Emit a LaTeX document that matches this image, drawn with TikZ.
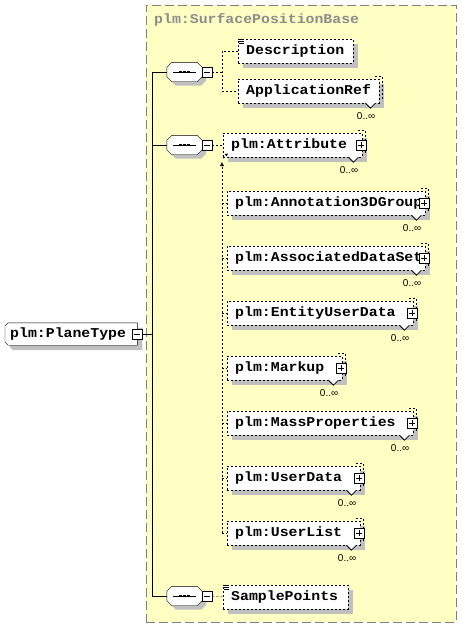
\documentclass[tikz,border=0pt]{standalone}
\usepackage{fontspec}
\newfontfamily\xsfont[FakeStretch=1.1]{Liberation Mono}
\newfontfamily\occfont{Liberation Sans}
\usetikzlibrary{arrows.meta}
\definecolor{ybg}{RGB}{255,255,196}
\definecolor{shd}{RGB}{192,192,192}
\definecolor{frm}{RGB}{128,128,128}
\definecolor{ttl}{RGB}{140,140,140}
\pgfdeclarelayer{bgl}\pgfdeclarelayer{shadow}\pgfdeclarelayer{back}
\pgfsetlayers{bgl,shadow,back,main}
\begin{document}
\begin{tikzpicture}[x=1pt,y=-1pt,line width=1pt,
  dsh/.style={dash pattern=on 2pt off 2pt},
  xsf/.style={font=\xsfont\bfseries\fontsize{13.5pt}{16pt}\selectfont},
  elem/.style={xsf,draw,dsh,fill=white,inner xsep=8pt,inner ysep=0pt,minimum height=24pt,text height=9.5pt,text depth=3pt,align=left,anchor=west},
  comp/.style={minimum width=35pt,minimum height=19pt,inner sep=0pt},
  sbox/.style={draw,solid,fill=white,minimum size=10pt,inner sep=0pt,line width=0.8pt},
  occ/.style={font=\occfont\fontsize{10pt}{12pt}\selectfont,inner sep=0pt,anchor=east},
]
\useasboundingbox (0,0) rectangle (462,627);

\begin{pgfonlayer}{bgl}
\node[draw=frm,line width=1pt,dash pattern=on 9pt off 4pt,fill=ybg,minimum width=310pt,minimum height=617pt,inner sep=0pt] (base) at (301,313.5) {};
\end{pgfonlayer}
\node[xsf,text=ttl,anchor=west,inner sep=0pt] (title) at (154,20) {plm:SurfacePositionBase};

% PlaneType
\node[xsf,anchor=west,inner xsep=5pt,inner ysep=0pt,minimum height=22pt,text width=122pt,text height=9.5pt,text depth=3pt,align=left] (pt) at (5,334) {plm:PlaneType};
\begin{pgfonlayer}{shadow}
\fill[shd] ([shift={(8,5)}]pt.north west) -- ([shift={(5,5)}]pt.north east) -- ([shift={(5,5)}]pt.south east) -- ([shift={(8,5)}]pt.south west) -- ([shift={(5,2)}]pt.south west) -- ([shift={(5,8)}]pt.north west) -- cycle;
\end{pgfonlayer}
\begin{pgfonlayer}{back}
\filldraw[fill=white] ([shift={(3,0)}]pt.north west) -- (pt.north east) -- (pt.south east) -- ([shift={(3,0)}]pt.south west) -- ([shift={(0,-3)}]pt.south west) -- ([shift={(0,3)}]pt.north west) -- cycle;
\end{pgfonlayer}
\node[sbox] (pt-m) at (pt.east) {};
\draw[line width=0.8pt] ([shift={(-3,0)}]pt-m.center) -- ([shift={(3,0)}]pt-m.center);

% trunk
\coordinate (j0) at (152,334);
\coordinate (jt) at (152,72);
\coordinate (j2) at (152,145);
\coordinate (jb) at (152,596);
\draw (pt-m.east) -- (j0);
\draw (jt) -- (jb);

% compositors
\foreach \s/\y in {s1/72,s2/145,s3/596} {
  \node[comp] (\s) at (184.5,\y) {};
  \begin{pgfonlayer}{shadow}
  \fill[shd] ([shift={(9,4)}]\s.north west) -- ([shift={(-1,4)}]\s.north east) -- ([shift={(4,9)}]\s.north east) -- ([shift={(4,-1)}]\s.south east) -- ([shift={(-1,4)}]\s.south east) -- ([shift={(9,4)}]\s.south west) -- ([shift={(4,-1)}]\s.south west) -- ([shift={(4,9)}]\s.north west) -- cycle;
  \end{pgfonlayer}
  \filldraw[fill=white] ([shift={(5,0)}]\s.north west) -- ([shift={(-5,0)}]\s.north east) -- ([shift={(0,5)}]\s.north east) -- ([shift={(0,-5)}]\s.south east) -- ([shift={(-5,0)}]\s.south east) -- ([shift={(5,0)}]\s.south west) -- ([shift={(0,-5)}]\s.south west) -- ([shift={(0,5)}]\s.north west) -- cycle;
  \draw ([shift={(6,0)}]\s.west) -- ([shift={(-6,0)}]\s.east);
  \foreach \d in {-4,0,4} \fill ([shift={(\d-1.3,-1.4)}]\s.center) rectangle ([shift={(\d+1.3,1.4)}]\s.center);
  \node[sbox] (\s-m) at (207,\y) {};
  \draw[line width=0.8pt] ([shift={(-3,0)}]\s-m.center) -- ([shift={(3,0)}]\s-m.center);
}
\draw (jt) -- (s1.west);
\draw (j2) -- (s2.west);
\draw (jb) -- (s3.west);

% multi-occurrence elements
\foreach \n/\x/\y/\w/\t in {att/223/145/139/plm:Attribute, ann/227/203/198/plm:Annotation3DGroup, ads/227/258/198/plm:AssociatedDataSet, eud/227/313/186/plm:EntityUserData, mku/227/368/115/plm:Markup, mas/227/423/186/plm:MassProperties, ud/227/478/133/plm:UserData, ul/227/533/133/plm:UserList, apr/238/91/141/ApplicationRef} {
  \pgfmathsetmacro\tw{\w-16}
  \node[elem,text width=\tw pt] (\n) at (\x,\y) {\t};
  \begin{pgfonlayer}{shadow}
  \fill[shd] ([shift={(5,5)}]\n.north west) rectangle ([shift={(5,5)}]\n.south east);
  \end{pgfonlayer}
  \begin{pgfonlayer}{back}
  \draw[dsh] ([shift={(-4,-3)}]\n.north east) -- ([shift={(3,-3)}]\n.north east) -- ([shift={(3,-3)}]\n.south east);
  \end{pgfonlayer}
  \filldraw[fill=white,line width=0.8pt] ([shift={(-14,0)}]\n.south east) -- ([shift={(-9,5)}]\n.south east) -- ([shift={(-4,0)}]\n.south east);
  \node[occ] (\n-o) at ([shift={(-4,13)}]\n.south east) {0..∞};
}
\foreach \n in {att,ann,ads,eud,mku,mas,ud,ul} {
  \node[sbox] (\n-p) at ([shift={(-1,0)}]\n.east) {};
  \draw[line width=0.8pt] ([shift={(-3,0)}]\n-p.center) -- ([shift={(3,0)}]\n-p.center) ([shift={(0,-3)}]\n-p.center) -- ([shift={(0,3)}]\n-p.center);
}

% simple-content elements
\node[elem,text width=99pt] (desc) at (238,51) {Description};
\node[elem,text width=109pt] (sp) at (223,597) {SamplePoints};
\foreach \n in {desc,sp} {
  \begin{pgfonlayer}{shadow}
  \fill[shd] ([shift={(5,5)}]\n.north west) rectangle ([shift={(5,5)}]\n.south east);
  \end{pgfonlayer}
  \fill[white] ([shift={(0.5,0)}]\n.north west) rectangle ([shift={(6.5,5.5)}]\n.north west);
  \foreach \k in {0.5,2.5,4.5} \draw[line width=0.8pt] ([shift={(1,\k)}]\n.north west) -- ([shift={(6,\k)}]\n.north west);
}

% sequence 1 connectors
\coordinate (b1m) at (222,72);
\draw[dsh] (s1-m.east) -- (b1m);
\draw[dsh] (desc.west) -| (b1m) |- (apr.west);

% sequence 2 connectors
\coordinate (vtop) at (222,162);
\draw[dsh] (s2-m.east) -- (att.west);
\draw[dsh,-{Latex[length=4pt,width=4pt]}] (vtop |- ul.west) -- (vtop);
\foreach \n in {ann,ads,eud,mku,mas,ud,ul} \draw[dsh] (vtop |- \n.west) -- (\n.west);
\draw[dsh,line width=0.8pt,-{Latex[length=3pt,width=3pt]}] ([shift={(0,1)}]att.south west) -- ([shift={(5,-4)}]att.south west);

% sequence 3 connector
\draw[dsh] (s3-m.east) -- (sp.west);
\end{tikzpicture}
\end{document}
